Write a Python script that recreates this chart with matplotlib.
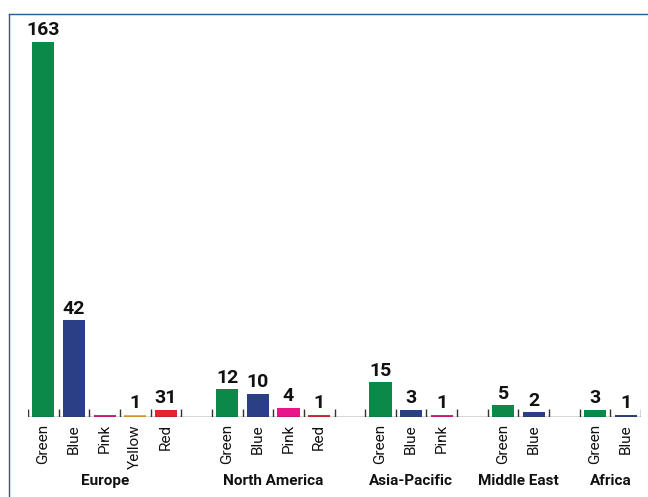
import matplotlib
matplotlib.use("Agg")
import matplotlib.pyplot as plt
from matplotlib.lines import Line2D
import matplotlib.transforms as mtransforms

regions = ["Europe", "North America", "Asia-Pacific", "Middle East", "Africa"]
categories = [
    ["Green", "Blue", "Pink", "Yellow", "Red"],
    ["Green", "Blue", "Pink", "Red"],
    ["Green", "Blue", "Pink"],
    ["Green", "Blue"],
    ["Green", "Blue"],
]
values = [
    [163, 42, 1, 1, 3],
    [12, 10, 4, 1],
    [15, 3, 1],
    [5, 2],
    [3, 1],
]
value_labels = [
    ["163", "42", "", "1", "31"],
    ["12", "10", "4", "1"],
    ["15", "3", "1"],
    ["5", "2"],
    ["3", "1"],
]
colors = {"Green": "#0a8a48", "Blue": "#2a3f86", "Pink": "#e8168a",
          "Yellow": "#f3b02e", "Red": "#e5242b"}

FONT = ["Roboto", "DejaVu Sans"]
plt.rcParams["font.family"] = FONT

W, H = 648, 497
fig = plt.figure(figsize=(W / 100, H / 100), dpi=100)
x0, x1 = 28, 641
ybase, ytop = 417, 13
ax = fig.add_axes([x0 / W, (H - ybase) / H, (x1 - x0) / W, (ybase - ytop) / H])
ymax = 163 * (ybase - ytop) / (ybase - 42)

n_slots = sum(len(c) for c in categories) + len(categories) - 1
ax.set_xlim(0, n_slots)
ax.set_ylim(0, ymax)
for s in ax.spines.values():
    s.set_visible(False)
ax.set_yticks([])

tick_pos, tick_lab = [], []
slot = 0
tick_edges = []
trans = mtransforms.blended_transform_factory(ax.transData, fig.transFigure)
for g, (reg, cats, vals, labs) in enumerate(zip(regions, categories, values, value_labels)):
    start = slot
    for c, v, lab in zip(cats, vals, labs):
        xc = slot + 0.5
        ax.bar(xc, v, width=0.72, color=colors[c], zorder=2)
        if lab:
            ax.annotate(lab, (xc, v), xytext=(0, 2), textcoords="offset points",
                        ha="center", va="bottom", fontsize=14, fontweight="bold",
                        color="#111111")
        tick_pos.append(xc)
        tick_lab.append(c)
        slot += 1
    tick_edges.extend(range(start, slot + 1))
    ax.text((start + slot) / 2, 1 - 481 / H, reg, transform=trans, ha="center",
            va="center", fontsize=11, fontweight="bold", color="#111111")
    slot += 1

ax.axhline(0, color="#333333", lw=1.0, zorder=3)
tick_h = 8 * ymax / (ybase - ytop)
ax.vlines(tick_edges, 0, tick_h, color="#333333", lw=1.0, zorder=3)

ax.set_xticks(tick_pos)
ax.set_xticklabels(tick_lab, rotation=90, fontsize=11, color="#111111")
ax.tick_params(axis="x", length=0, pad=5)

frame_c = "#2c5a8c"
fig.add_artist(Line2D([8.5 / W, 8.5 / W], [0, 1 - 13.5 / H], color=frame_c, lw=1.0,
                      transform=fig.transFigure))
fig.add_artist(Line2D([8.5 / W, 647 / W], [1 - 13.5 / H, 1 - 13.5 / H], color=frame_c,
                      lw=1.0, transform=fig.transFigure))

fig.savefig("out.png", dpi=100, facecolor="white")
